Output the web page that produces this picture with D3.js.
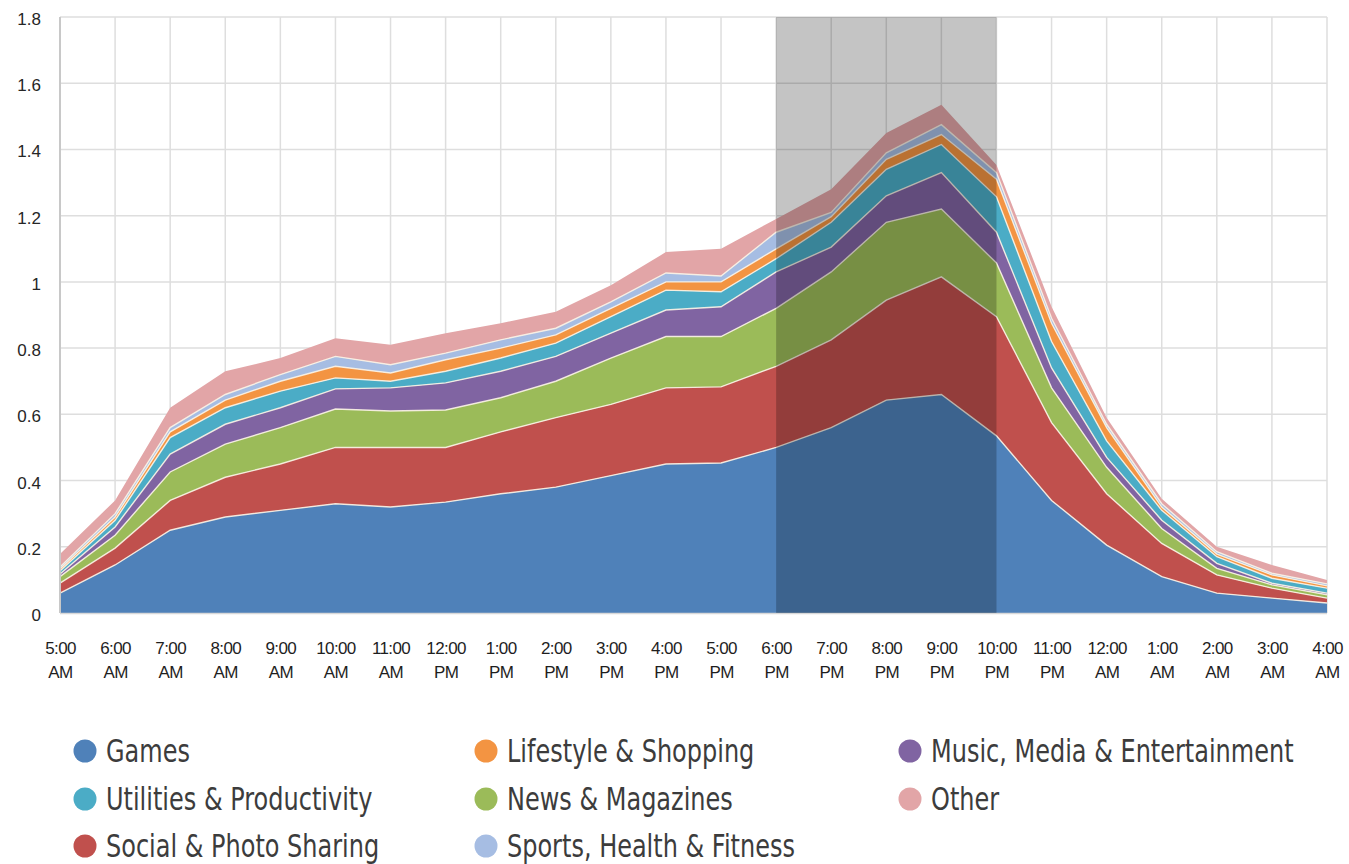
<!DOCTYPE html>
<html>
<head>
<meta charset="utf-8">
<script src="https://cdn.jsdelivr.net/npm/d3@7"></script>
<style>
  body { margin: 0; background: #fff; }
  svg { display: block; }
</style>
</head>
<body>
<svg id="chart"></svg>
<script>
// hours of the day, 5 AM through 4 AM
const times = ["5:00 AM", "6:00 AM", "7:00 AM", "8:00 AM", "9:00 AM", "10:00 AM", "11:00 AM", "12:00 PM",
  "1:00 PM", "2:00 PM", "3:00 PM", "4:00 PM", "5:00 PM", "6:00 PM", "7:00 PM", "8:00 PM", "9:00 PM",
  "10:00 PM", "11:00 PM", "12:00 AM", "1:00 AM", "2:00 AM", "3:00 AM", "4:00 AM"];

// one value per hour for each category (stacked bottom to top)
const games = [0.06, 0.145, 0.25, 0.29, 0.31, 0.33, 0.32, 0.335, 0.36, 0.38, 0.415, 0.45, 0.453, 0.50, 0.56, 0.643, 0.66, 0.535, 0.34, 0.205, 0.11, 0.06, 0.045, 0.03];
const social = [0.03, 0.051, 0.09, 0.12, 0.14, 0.17, 0.18, 0.165, 0.187, 0.21, 0.215, 0.23, 0.23, 0.245, 0.265, 0.302, 0.355, 0.36, 0.235, 0.155, 0.10, 0.055, 0.03, 0.015];
const news = [0.02, 0.039, 0.086, 0.10, 0.11, 0.116, 0.11, 0.113, 0.103, 0.11, 0.14, 0.155, 0.152, 0.175, 0.205, 0.235, 0.205, 0.162, 0.105, 0.08, 0.045, 0.02, 0.01, 0.01];
const music = [0.008, 0.025, 0.054, 0.06, 0.06, 0.061, 0.07, 0.082, 0.08, 0.075, 0.075, 0.08, 0.09, 0.11, 0.075, 0.08, 0.11, 0.093, 0.06, 0.03, 0.025, 0.015, 0.005, 0.005];
const utilities = [0.009, 0.02, 0.05, 0.05, 0.05, 0.033, 0.02, 0.035, 0.04, 0.04, 0.05, 0.06, 0.045, 0.04, 0.075, 0.08, 0.085, 0.107, 0.08, 0.05, 0.03, 0.02, 0.015, 0.015];
const lifestyle = [0.006, 0.01, 0.017, 0.023, 0.03, 0.035, 0.025, 0.035, 0.03, 0.025, 0.025, 0.025, 0.03, 0.03, 0.017, 0.03, 0.03, 0.053, 0.055, 0.04, 0.01, 0.008, 0.01, 0.007];
const sports = [0.006, 0.01, 0.013, 0.017, 0.02, 0.03, 0.025, 0.02, 0.025, 0.02, 0.02, 0.027, 0.018, 0.05, 0.013, 0.02, 0.03, 0.02, 0.015, 0.01, 0.01, 0.007, 0.005, 0.006];
const other = [0.039, 0.04, 0.06, 0.07, 0.05, 0.055, 0.06, 0.06, 0.05, 0.05, 0.05, 0.063, 0.082, 0.04, 0.07, 0.06, 0.06, 0.023, 0.035, 0.02, 0.015, 0.015, 0.025, 0.012];

const seriesNames = ["Games", "Social & Photo Sharing", "News & Magazines", "Music, Media & Entertainment",
  "Utilities & Productivity", "Lifestyle & Shopping", "Sports, Health & Fitness", "Other"];
const seriesValues = [games, social, news, music, utilities, lifestyle, sports, other];
const seriesColors = ["#4f81b9", "#c0504d", "#9bbb59", "#8064a2", "#4bacc6", "#f39442", "#a6bde3", "#e2a5a7"];

const yTicks = [0, 0.2, 0.4, 0.6, 0.8, 1, 1.2, 1.4, 1.6, 1.8];

// legend as it is laid out: three columns
const legendColumns = [
  ["Games", "Utilities & Productivity", "Social & Photo Sharing"],
  ["Lifestyle & Shopping", "News & Magazines", "Sports, Health & Fitness"],
  ["Music, Media & Entertainment", "Other"]
];

const highlightFrom = "6:00 PM", highlightTo = "10:00 PM";

const width = 1349, height = 864;
const svg = d3.select("#chart").attr("width", width).attr("height", height);

const x = d3.scalePoint().domain(times).range([60, 1327]);
const y = d3.scaleLinear().domain([0, 1.8]).range([613, 17]);
const color = d3.scaleOrdinal().domain(seriesNames).range(seriesColors);

const table = times.map((t, i) => {
  const row = { time: t };
  seriesNames.forEach((n, k) => { row[n] = seriesValues[k][i]; });
  return row;
});
const stacked = d3.stack().keys(seriesNames)(table);

// grid
const grid = svg.append("g");
grid.selectAll("line.h").data(yTicks.slice(1)).enter().append("line")
  .attr("x1", x.range()[0]).attr("x2", x.range()[1])
  .attr("y1", d => y(d)).attr("y2", d => y(d))
  .attr("stroke", "#dedede").attr("stroke-width", 1.5);
grid.selectAll("line.v").data(times.slice(1)).enter().append("line")
  .attr("x1", d => x(d)).attr("x2", d => x(d))
  .attr("y1", y(1.8)).attr("y2", y(0))
  .attr("stroke", "#dedede").attr("stroke-width", 1.5);

// stacked areas
const area = d3.area()
  .x(d => x(d.data.time))
  .y0(d => y(d[0]))
  .y1(d => y(d[1]));
const topLine = d3.line()
  .x(d => x(d.data.time))
  .y(d => y(d[1]));

svg.append("g").selectAll("path").data(stacked).enter().append("path")
  .attr("d", area)
  .attr("fill", d => color(d.key));

svg.append("g").selectAll("path").data(stacked.slice(0, -1)).enter().append("path")
  .attr("d", topLine)
  .attr("fill", "none")
  .attr("stroke", "#fbf3e6")
  .attr("stroke-width", 1.4)
  .attr("stroke-opacity", 0.9);

// left axis line and baseline
svg.append("line")
  .attr("x1", x.range()[0]).attr("x2", x.range()[0])
  .attr("y1", y(1.8)).attr("y2", y(0))
  .attr("stroke", "#c8c8c8").attr("stroke-width", 2);
svg.append("line")
  .attr("x1", x.range()[0]).attr("x2", x.range()[1])
  .attr("y1", y(0) + 0.5).attr("y2", y(0) + 0.5)
  .attr("stroke", "#d8d8d8").attr("stroke-width", 1.5);

// highlighted evening
svg.append("rect")
  .attr("x", x(highlightFrom))
  .attr("y", y(1.8))
  .attr("width", x(highlightTo) - x(highlightFrom))
  .attr("height", y(0) - y(1.8))
  .attr("fill", "#000")
  .attr("fill-opacity", 0.23);

// y axis labels
const yAxis = d3.axisLeft(y).tickValues(yTicks).tickSize(0).tickPadding(0)
  .tickFormat(d => d3.format("")(+d.toFixed(1)));
svg.append("g")
  .attr("transform", "translate(41,2)")
  .call(yAxis)
  .call(g => g.select(".domain").remove())
  .call(g => g.selectAll("text")
    .attr("font-family", "'Liberation Sans', Arial, sans-serif")
    .attr("font-size", 17)
    .attr("fill", "#262626"));

// x axis labels, two lines
const xAxis = d3.axisBottom(x).tickSize(0).tickFormat("");
const xg = svg.append("g").attr("transform", `translate(0,${y(0)})`).call(xAxis);
xg.select(".domain").remove();
xg.selectAll(".tick").each(function (d) {
  const parts = d.split(" ");
  const t = d3.select(this).append("text")
    .attr("text-anchor", "middle")
    .attr("font-family", "'Liberation Sans', Arial, sans-serif")
    .attr("font-size", 17)
    .attr("letter-spacing", -0.6)
    .attr("fill", "#1e1e1e");
  t.append("tspan").attr("x", 0).attr("y", 41).text(parts[0]);
  t.append("tspan").attr("x", 0).attr("y", 65).text(parts[1]);
});

// legend (condensed look by squeezing the text horizontally)
const legendX = [85, 486, 910];
const legendY = [751, 799, 846];
const legend = svg.append("g");
legendColumns.forEach((col, c) => {
  col.forEach((name, r) => {
    const g = legend.append("g").attr("transform", `translate(${legendX[c]},${legendY[r]})`);
    g.append("circle").attr("r", 11.5).attr("fill", color(name));
    g.append("text")
      .attr("transform", "translate(21,11) scale(0.75,1)")
      .attr("font-family", "'DejaVu Sans', sans-serif")
      .attr("font-size", 32)
      .attr("fill", "#3c3c3c")
      .text(name);
  });
});
</script>
</body>
</html>
